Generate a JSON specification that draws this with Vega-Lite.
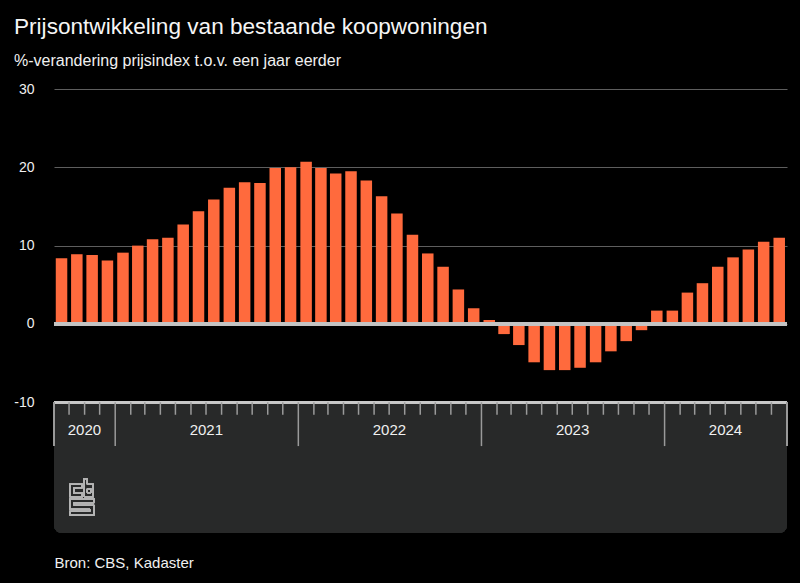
{
  "$schema": "https://vega.github.io/schema/vega-lite/v6.json",
  "width": 733,
  "height": 444,
  "autosize": {"type": "none"},
  "padding": {"left": 54, "top": 89, "right": 13, "bottom": 50},
  "background": "#000000",
  "config": {
    "view": {"stroke": null},
    "font": "Liberation Sans"
  },
  "title": {
    "text": "Prijsontwikkeling van bestaande koopwoningen",
    "subtitle": "%-verandering prijsindex t.o.v. een jaar eerder",
    "anchor": "start",
    "frame": "group",
    "dx": -40,
    "fontSize": 22.6,
    "fontWeight": "normal",
    "color": "#f5f5f5",
    "subtitleFontSize": 16,
    "subtitleColor": "#f0f0f0",
    "subtitlePadding": 14,
    "offset": 13
  },
  "data": {
    "format": {"parse": {"date": "date"}},
    "values": [
      {"date": "2020/09/01", "value": 8.4},
      {"date": "2020/10/01", "value": 8.9},
      {"date": "2020/11/01", "value": 8.8},
      {"date": "2020/12/01", "value": 8.1},
      {"date": "2021/01/01", "value": 9.1},
      {"date": "2021/02/01", "value": 10.0},
      {"date": "2021/03/01", "value": 10.8},
      {"date": "2021/04/01", "value": 11.0},
      {"date": "2021/05/01", "value": 12.7},
      {"date": "2021/06/01", "value": 14.4},
      {"date": "2021/07/01", "value": 15.9},
      {"date": "2021/08/01", "value": 17.4},
      {"date": "2021/09/01", "value": 18.1},
      {"date": "2021/10/01", "value": 18.0},
      {"date": "2021/11/01", "value": 19.9},
      {"date": "2021/12/01", "value": 20.0},
      {"date": "2022/01/01", "value": 20.7},
      {"date": "2022/02/01", "value": 19.9},
      {"date": "2022/03/01", "value": 19.2},
      {"date": "2022/04/01", "value": 19.5},
      {"date": "2022/05/01", "value": 18.3},
      {"date": "2022/06/01", "value": 16.3},
      {"date": "2022/07/01", "value": 14.1},
      {"date": "2022/08/01", "value": 11.4},
      {"date": "2022/09/01", "value": 9.0},
      {"date": "2022/10/01", "value": 7.3},
      {"date": "2022/11/01", "value": 4.4},
      {"date": "2022/12/01", "value": 2.0},
      {"date": "2023/01/01", "value": 0.5},
      {"date": "2023/02/01", "value": -1.3},
      {"date": "2023/03/01", "value": -2.7},
      {"date": "2023/04/01", "value": -4.9},
      {"date": "2023/05/01", "value": -5.9},
      {"date": "2023/06/01", "value": -5.9},
      {"date": "2023/07/01", "value": -5.6},
      {"date": "2023/08/01", "value": -4.9},
      {"date": "2023/09/01", "value": -3.5},
      {"date": "2023/10/01", "value": -2.2},
      {"date": "2023/11/01", "value": -0.8},
      {"date": "2023/12/01", "value": 1.7},
      {"date": "2024/01/01", "value": 1.7},
      {"date": "2024/02/01", "value": 4.0},
      {"date": "2024/03/01", "value": 5.2},
      {"date": "2024/04/01", "value": 7.3},
      {"date": "2024/05/01", "value": 8.5},
      {"date": "2024/06/01", "value": 9.5},
      {"date": "2024/07/01", "value": 10.5},
      {"date": "2024/08/01", "value": 11.0}
    ]
  },
  "layer": [
    {
      "mark": {"type": "bar", "color": "#ff6a3d", "width": 11.5},
      "encoding": {
        "x": {
          "field": "date",
          "timeUnit": "yearmonth",
          "type": "temporal",
          "bandPosition": 0.45,
          "scale": {"domain": [{"year": 2020, "month": 9, "date": 1}, {"year": 2024, "month": 9, "date": 1}]},
          "axis": {
            "title": "Bron: CBS, Kadaster",
            "labels": false,
            "ticks": false,
            "domain": false,
            "grid": false,
            "titleX": 0,
            "titleY": 34,
            "titleAnchor": "start",
            "titleAlign": "left",
            "titleBaseline": "alphabetic",
            "titleFontSize": 15,
            "titleFontWeight": "normal",
            "titleColor": "#f0f0f0"
          }
        },
        "y": {
          "field": "value",
          "type": "quantitative",
          "scale": {"domain": [-26.7, 30], "nice": false, "zero": false},
          "axis": {
            "title": null,
            "values": [-10, 0, 10, 20, 30],
            "labelExpr": "'' + datum.value",
            "grid": true,
            "gridColor": "#5e5e5e",
            "gridWidth": 1,
            "domain": false,
            "ticks": false,
            "labelPadding": 20,
            "labelFontSize": 14,
            "labelColor": "#f0f0f0"
          }
        }
      }
    },
    {
      "mark": {"type": "rule", "color": "#c4c4c4", "strokeWidth": 3},
      "encoding": {
        "x": {"datum": {"year": 2020, "month": 9, "date": 1}},
        "x2": {"datum": {"year": 2024, "month": 9, "date": 1}},
        "y": {"datum": 0}
      }
    },
    {
      "mark": {"type": "rect", "color": "#282929", "cornerRadiusBottomLeft": 8, "cornerRadiusBottomRight": 8},
      "encoding": {
        "x": {"datum": {"year": 2020, "month": 9, "date": 1}},
        "x2": {"datum": {"year": 2024, "month": 9, "date": 1}},
        "y": {"datum": -10},
        "y2": {"datum": -26.7}
      }
    },
    {
      "mark": {"type": "rule", "color": "#c8c8c8", "strokeWidth": 2},
      "encoding": {
        "x": {"datum": {"year": 2020, "month": 9, "date": 1}},
        "x2": {"datum": {"year": 2024, "month": 9, "date": 1}},
        "y": {"datum": -10}
      }
    },
    {
      "transform": [{"filter": "month(datum.date) != 0"}],
      "mark": {"type": "rule", "color": "#9a9a9a", "strokeWidth": 1.5},
      "encoding": {
        "x": {"field": "date", "type": "temporal"},
        "y": {"datum": -10},
        "y2": {"datum": -11.6}
      }
    },
    {
      "transform": [{"filter": "month(datum.date) == 0"}],
      "mark": {"type": "rule", "color": "#9a9a9a", "strokeWidth": 1.5},
      "encoding": {
        "x": {"field": "date", "type": "temporal"},
        "y": {"datum": -10},
        "y2": {"datum": -15.6}
      }
    },
    {
      "mark": {"type": "rule", "color": "#9a9a9a", "strokeWidth": 1.5},
      "encoding": {
        "x": {"datum": {"year": 2020, "month": 9, "date": 1}},
        "y": {"datum": -10},
        "y2": {"datum": -15.6}
      }
    },
    {
      "mark": {"type": "rule", "color": "#9a9a9a", "strokeWidth": 1.5},
      "encoding": {
        "x": {"datum": {"year": 2024, "month": 9, "date": 1}},
        "y": {"datum": -10},
        "y2": {"datum": -15.6}
      }
    },
    {
      "transform": [
        {"timeUnit": "year", "field": "date", "as": "yr"},
        {"aggregate": [{"op": "mean", "field": "date", "as": "mid"}], "groupby": ["yr"]}
      ],
      "mark": {"type": "text", "color": "#f0f0f0", "fontSize": 15, "baseline": "middle", "align": "center", "dx": 7.6},
      "encoding": {
        "x": {"field": "mid", "type": "temporal"},
        "y": {"datum": -13.5},
        "text": {"field": "yr", "type": "temporal", "format": "%Y"}
      }
    },
    {
      "mark": {
        "type": "point",
        "shape": "M-0.64,-0.685L0.045,-0.685L0.045,-0.505L-0.405,-0.505L-0.405,-0.198L0.045,-0.198L0.045,-0.018L-0.64,-0.018Z M0.135,-0.99L0.315,-0.99L0.315,-0.685L0.64,-0.685L0.64,-0.018L0.135,-0.018Z M0.315,-0.45L0.495,-0.45L0.495,-0.234L0.315,-0.234Z M-0.64,0.09L0.676,0.09L0.676,0.306L-0.405,0.306L-0.405,0.45L0.676,0.45L0.676,0.99L-0.64,0.99L-0.64,0.775L0.441,0.775L0.441,0.667L-0.64,0.667Z",
        "filled": false,
        "stroke": "#b4b4b4",
        "strokeWidth": 1,
        "size": 1369,
        "opacity": 1
      },
      "encoding": {
        "x": {"datum": {"year": 2020, "month": 10, "date": 26}},
        "y": {"datum": -22.1}
      }
    }
  ]
}
